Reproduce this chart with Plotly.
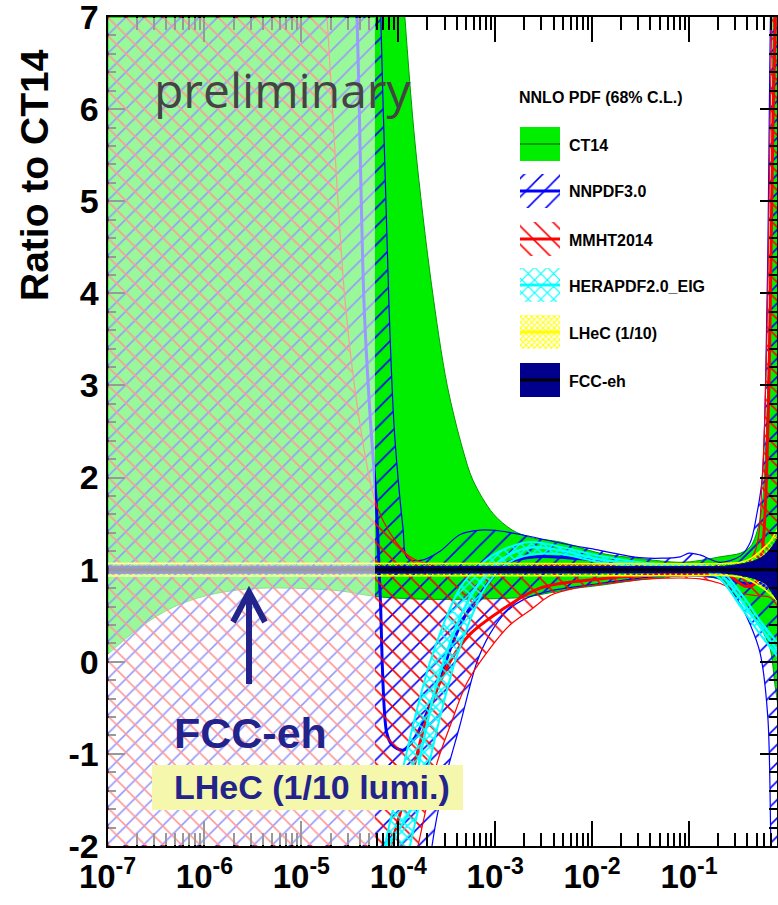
import plotly.graph_objects as go

W, H = 778, 905

# ---------------- PDF ratio bands (ratio to CT14 central) ----------------
# CT14
ct14_up_x = [5e-8, 5e-5, 9.3e-5, 1.17e-4, 1.5e-4, 2.2e-4, 3.2e-4, 4.65e-4, 5.9e-4, 9.5e-4, 1.5e-3,
             2.3e-3, 4.7e-3, 1.2e-2, 3.1e-2, 8.1e-2, 0.13, 0.21, 0.34, 0.43, 0.54, 0.61, 0.68, 0.77, 1.0]
ct14_up = [12, 12, 8.6, 7.0, 5.6, 4.1, 3.0, 2.3, 1.97, 1.61, 1.43,
           1.35, 1.30, 1.18, 1.12, 1.08, 1.10, 1.14, 1.18, 1.25, 1.54, 2.2, 4.0, 8.0, 12]
ct14_lo_x = [5e-8, 1e-7, 2.2e-7, 4.7e-7, 1.06e-6, 2.75e-6, 7.6e-6, 2.5e-5, 5.75e-5, 1.7e-4, 5.5e-4,
             1.94e-3, 3.7e-3, 5.9e-3, 1.2e-2, 3.1e-2, 8.1e-2, 0.13, 0.21, 0.26, 0.34, 0.43, 0.54,
             0.68, 0.77, 0.83, 1.0]
ct14_lo = [-0.2, 0.08, 0.38, 0.59, 0.72, 0.79, 0.80, 0.77, 0.71, 0.68, 0.68,
           0.70, 0.75, 0.79, 0.83, 0.89, 0.93, 0.93, 0.89, 0.78, 0.67, 0.56, 0.38,
           0.16, -0.25, -0.5, -1.5]

# NNPDF3.0
nn_up_x = [5e-8, 5e-5, 6.6e-5, 8.0e-5, 9.0e-5, 1.0e-4, 1.12e-4, 1.23e-4, 1.7e-4, 2.7e-4, 4.3e-4,
           7e-4, 1.12e-3, 2.3e-3, 4.7e-3, 1.2e-2, 3.1e-2, 8.1e-2, 0.10, 0.13, 0.21, 0.34, 0.43,
           0.50, 0.57, 0.64, 0.72, 1.0]
nn_up = [12, 12, 7.0, 3.9, 2.6, 1.97, 1.45, 1.13, 1.10, 1.2, 1.38,
         1.43, 1.42, 1.36, 1.29, 1.21, 1.13, 1.14, 1.18, 1.16, 1.08, 1.15, 1.3,
         1.6, 2.0, 4.0, 8.0, 12]
nn_lo_x = [5e-8, 1.5e-4, 1.89e-4, 2.23e-4, 3.0e-4, 4.3e-4, 6.5e-4, 8.8e-4, 1.32e-3, 2.0e-3, 3.7e-3,
           1.2e-2, 4e-2, 0.13, 0.21, 0.26, 0.34, 0.43, 0.54, 0.65, 0.72, 1.0]
nn_lo = [-5, -5, -3, -2, -1.3, -0.7, 0.0, 0.3, 0.55, 0.68, 0.77,
         0.85, 0.92, 0.93, 0.9, 0.8, 0.62, 0.4, 0.1, -0.6, -2.5, -5]
nn_c_x = [5e-8, 3.3e-5, 3.75e-5, 4.43e-5, 5.1e-5, 5.9e-5, 6.5e-5, 7.6e-5, 8.6e-5, 1.12e-4, 1.49e-4,
          1.98e-4, 2.7e-4, 3.42e-4, 4.9e-4, 7.5e-4, 1.32e-3, 2.7e-3, 5.5e-3, 1.2e-2, 3.1e-2,
          8.1e-2, 0.13, 0.21, 0.26, 0.38, 0.54, 0.68, 1.0]
nn_c = [12, 8.4, 7.0, 3.9, 2.7, 1.76, 0.74, -0.77, -0.9, -0.96, -0.82,
        -0.55, -0.2, 0.13, 0.5, 0.78, 1.07, 1.14, 1.13, 1.1, 1.05,
        1.04, 1.05, 0.98, 0.9, 0.85, 0.85, 0.8, 0.8]

# MMHT2014
mm_up_x = [5e-8, 1.2e-5, 1.84e-5, 2.82e-5, 4.0e-5, 5.75e-5, 8.2e-5, 1.32e-4, 2.9e-4, 7e-4, 3.7e-3,
           1.2e-2, 4e-2, 0.13, 0.21, 0.34, 0.48, 0.57, 0.65, 0.74, 1.0]
mm_up = [12, 10, 7.0, 3.93, 2.6, 1.75, 1.4, 1.14, 1.02, 1.0, 1.05,
         1.05, 1.04, 1.04, 1.02, 1.0, 1.2, 2.0, 4.0, 8.0, 12]
mm_lo_x = [5e-8, 8e-5, 1.04e-4, 1.6e-4, 2.51e-4, 3.42e-4, 5.1e-4, 8.2e-4, 1.42e-3, 2.3e-3, 3.7e-3,
           6.7e-3, 1.2e-2, 4e-2, 0.13, 0.21, 0.34, 0.48, 0.68, 0.83, 1.0]
mm_lo = [-5, -5, -3.0, -2.0, -1.1, -0.7, -0.23, 0.1, 0.4, 0.56, 0.72,
         0.8, 0.84, 0.9, 0.9, 0.85, 0.75, 0.72, 0.7, 0.6, 0.5]
mm_c_x = [5e-8, 7e-5, 8.6e-5, 1.32e-4, 2.13e-4, 3.42e-4, 5.5e-4, 1.12e-3, 2.9e-3, 1.2e-2, 4e-2,
          0.13, 0.26, 0.38, 0.48, 0.57, 0.65, 0.74, 1.0]
mm_c = [-5, -3.5, -2.0, -1.3, -0.5, 0.0, 0.3, 0.55, 0.8, 0.9, 0.94,
        0.96, 0.93, 0.82, 0.85, 1.2, 2.5, 6.0, 12]

# HERAPDF2.0_EIG
hp_up_x = [5e-8, 6.5e-5, 7.3e-5, 1.04e-4, 1.49e-4, 2.13e-4, 3.04e-4, 4.33e-4, 6.97e-4, 1.12e-3,
           2.29e-3, 4.67e-3, 1.21e-2, 3.96e-2, 0.13, 0.21, 0.34, 0.54, 0.83, 1.0]
hp_up = [-5, -2.6, -2.0, -1.3, -0.6, 0.0, 0.45, 0.8, 1.05, 1.2,
         1.3, 1.25, 1.15, 1.07, 1.05, 1.0, 0.75, 0.45, 0.2, 0.1]
hp_lo_x = [5e-8, 1.04e-4, 1.32e-4, 1.89e-4, 2.7e-4, 3.85e-4, 5.5e-4, 7.85e-4, 1.26e-3, 2.03e-3,
           4.67e-3, 1.21e-2, 3.96e-2, 0.13, 0.21, 0.34, 0.54, 0.83, 1.0]
hp_lo = [-5, -2.6, -2.0, -1.3, -0.6, 0.0, 0.45, 0.8, 1.05, 1.15,
         1.17, 1.08, 1.02, 1.0, 0.9, 0.6, 0.3, 0.05, -0.05]
hp_c_x = [5e-8, 1.2e-4, 1.7e-4, 2.4e-4, 3.4e-4, 4.9e-4, 7.4e-4, 1.2e-3, 2.3e-3, 4.7e-3, 1.2e-2,
          4e-2, 0.13, 0.21, 0.34, 0.54, 0.83, 1.0]
hp_c = [-5, -1.7, -1.0, -0.3, 0.2, 0.6, 0.9, 1.12, 1.24, 1.21, 1.11,
        1.05, 1.02, 0.95, 0.68, 0.38, 0.12, 0.02]

# LHeC (1/10 luminosity)
lh_x = [5e-8, 0.13, 0.21, 0.34, 0.43, 0.54, 0.68, 0.83, 1.0]
lh_up = [1.07, 1.065, 1.065, 1.08, 1.12, 1.2, 1.3, 1.45, 1.6]
lh_lo = [0.93, 0.935, 0.94, 0.92, 0.88, 0.82, 0.74, 0.65, 0.55]

# FCC-eh
fc_x = [5e-8, 0.13, 0.21, 0.34, 0.48, 0.61, 0.72, 0.83, 1.0]
fc_up = [1.04, 1.035, 1.035, 1.06, 1.1, 1.16, 1.25, 1.35, 1.5]
fc_lo = [0.96, 0.965, 0.965, 0.94, 0.9, 0.85, 0.75, 0.65, 0.5]

unit_x = [5e-8, 1.0]
unit_y = [1.0, 1.0]

# ---------------- axes ----------------
x_decades = [1e-7, 1e-6, 1e-5, 1e-4, 1e-3, 1e-2, 1e-1]
x_labels = ["10<sup>-7</sup>", "10<sup>-6</sup>", "10<sup>-5</sup>", "10<sup>-4</sup>",
            "10<sup>-3</sup>", "10<sup>-2</sup>", "10<sup>-1</sup>"]
y_ticks = [-2, -1, 0, 1, 2, 3, 4, 5, 6, 7]
y_labels = ["-2", "-1", "0", "1", "2", "3", "4", "5", "6", "7"]

legend_names = ["CT14", "NNPDF3.0", "MMHT2014", "HERAPDF2.0_EIG", "LHeC (1/10)", "FCC-eh"]

GREEN = "#00ee00"
BLUE = "#0000ff"
RED = "#ff0000"
CYAN = "#00ffff"
YELLOW = "#ffff00"
NAVY = "#00008c"
TXT = "#23238c"
FONT = "Liberation Sans, Arial, sans-serif"

fig = go.Figure()


def band(xu, yu, xl, yl, edge, ew, fill, pattern=None, axes=("x", "y"), shape="spline"):
    xs = list(xu) + list(reversed(xl))
    ys = list(yu) + list(reversed(yl))
    tr = dict(x=xs, y=ys, mode="lines", fill="toself", fillcolor=fill,
              line=dict(color=edge, width=ew, shape=shape, smoothing=0.9),
              hoverinfo="skip", showlegend=False, xaxis=axes[0], yaxis=axes[1])
    if pattern is not None:
        tr["fillpattern"] = pattern
    fig.add_trace(go.Scatter(**tr))


def curve(x, y, color, width, axes=("x", "y"), shape="spline"):
    fig.add_trace(go.Scatter(x=x, y=y, mode="lines",
                             line=dict(color=color, width=width, shape=shape, smoothing=0.9),
                             hoverinfo="skip", showlegend=False, xaxis=axes[0], yaxis=axes[1]))


def hatch(shape, color, size, solidity):
    return dict(shape=shape, fgcolor=color, bgcolor="rgba(0,0,0,0)", size=size,
                solidity=solidity, fillmode="replace")


# CT14
band(ct14_up_x, ct14_up, ct14_lo_x, ct14_lo, "#009900", 1, GREEN)
curve(unit_x, unit_y, "#009900", 2)
# NNPDF3.0
band(nn_up_x, nn_up, nn_lo_x, nn_lo, BLUE, 1.2, "rgba(0,0,0,0)", hatch("/", BLUE, 13, 0.12))
curve(nn_c_x, nn_c, BLUE, 3)
# MMHT2014
band(mm_up_x, mm_up, mm_lo_x, mm_lo, RED, 1.2, "rgba(0,0,0,0)", hatch("\\", RED, 13, 0.12))
curve(mm_c_x, mm_c, RED, 3)
# HERAPDF2.0
band(hp_up_x, hp_up, hp_lo_x, hp_lo, CYAN, 2, "rgba(0,0,0,0)", hatch("x", CYAN, 8, 0.35))
curve(hp_c_x, hp_c, CYAN, 2.5)
# LHeC
band(lh_x, lh_up, lh_x, lh_lo, YELLOW, 1.5, "rgba(0,0,0,0)", hatch("x", YELLOW, 4, 0.4))
curve(unit_x, unit_y, YELLOW, 2)
# FCC-eh
band(fc_x, fc_up, fc_x, fc_lo, NAVY, 1, NAVY)
curve(unit_x, unit_y, "black", 3)

# ---------------- legend (drawn in a pixel-space overlay) ----------------
sw_x0, sw_x1 = 520, 560
row_y = [144, 191, 239, 285, 332, 380]
half_h = 17
sw_styles = [
    dict(fill=GREEN, pattern=None, line="#009900", lw=2),
    dict(fill="rgba(0,0,0,0)", pattern=hatch("/", BLUE, 13, 0.12), line=BLUE, lw=3),
    dict(fill="rgba(0,0,0,0)", pattern=hatch("\\", RED, 13, 0.12), line=RED, lw=3),
    dict(fill="rgba(0,0,0,0)", pattern=hatch("x", CYAN, 9, 0.25), line=CYAN, lw=3),
    dict(fill="rgba(0,0,0,0)", pattern=hatch("x", YELLOW, 4, 0.45), line=YELLOW, lw=3),
    dict(fill=NAVY, pattern=None, line="black", lw=3),
]
for yc, st, name in zip(row_y, sw_styles, legend_names):
    band([sw_x0, sw_x1], [yc - half_h, yc - half_h], [sw_x0, sw_x1], [yc + half_h, yc + half_h],
         "rgba(0,0,0,0)", 0, st["fill"], st["pattern"], axes=("x2", "y2"), shape="linear")
    curve([sw_x0, sw_x1], [yc, yc], st["line"], st["lw"], axes=("x2", "y2"), shape="linear")


def px(x):
    return x / W


def py(y):
    return 1 - y / H


annotations = [
    dict(text="<b>NNLO PDF (68% C.L.)</b>", x=px(517), y=py(97), xanchor="left", yanchor="middle",
         font=dict(family=FONT, size=16, color="black")),
]
for yc, name in zip(row_y, legend_names):
    annotations.append(dict(text="<b>%s</b>" % name, x=px(567), y=py(yc + 1), xanchor="left",
                            yanchor="middle", font=dict(family=FONT, size=16, color="black")))

annotations += [
    dict(text="Ratio to CT14", x=px(34), y=py(175), textangle=-90, xanchor="center",
         yanchor="middle", font=dict(family=FONT, size=39, color="black", weight="bold")),
    dict(text="preliminary", x=px(282), y=py(90), xanchor="center", yanchor="middle",
         font=dict(family="Open Sans, sans-serif", size=48, color="#444444")),
    dict(text="<b>FCC-eh</b>", x=px(250), y=py(733), xanchor="center", yanchor="middle",
         font=dict(family=FONT, size=43, color=TXT)),
    dict(text="<b>LHeC (1/10 lumi.)</b>", x=px(312), y=py(787), xanchor="center", yanchor="middle",
         font=dict(family=FONT, size=34, color=TXT)),
]
for a in annotations:
    a.update(xref="paper", yref="paper", showarrow=False)

shapes = [
    # pale veil over the small-x extrapolation region
    dict(type="rect", xref="paper", yref="paper", x0=px(108.5), x1=px(375), y0=py(845), y1=py(18),
         fillcolor="rgba(255,255,255,0.6)", line=dict(width=0), layer="above"),
    # label box
    dict(type="rect", xref="paper", yref="paper", x0=px(152), x1=px(463), y0=py(810), y1=py(765),
         fillcolor="#f4f7ac", line=dict(width=0), layer="above"),
    # arrow
    dict(type="path", xref="paper", yref="paper",
         path="M %f,%f L %f,%f M %f,%f L %f,%f L %f,%f" % (
             px(249), py(684), px(249), py(594),
             px(233), py(622), px(249), py(592), px(265), py(622)),
         line=dict(color=TXT, width=6), layer="above"),
]

minor_x = [m * d for d in x_decades for m in range(2, 10)]

axis_common = dict(showline=True, linecolor="black", linewidth=2, mirror="allticks",
                   ticks="inside", tickcolor="black", tickwidth=2, showgrid=False, zeroline=False,
                   automargin=False, ticklabeloverflow="allow")

fig.update_layout(
    width=W, height=H,
    margin=dict(l=0, r=0, t=0, b=0, autoexpand=False),
    paper_bgcolor="white", plot_bgcolor="rgba(0,0,0,0)",
    showlegend=False,
    xaxis=dict(type="log", domain=[107.5 / W, 777 / W], range=[-7, -0.0923],
               tickmode="array", tickvals=x_decades, ticktext=x_labels, ticklen=25,
               tickfont=dict(family=FONT, size=33, color="black", weight="bold"),
               minor=dict(tickmode="array", tickvals=minor_x, ticks="inside", ticklen=13,
                          tickwidth=1.5, tickcolor="black"),
               anchor="y", **axis_common),
    yaxis=dict(domain=[py(846), py(17)], range=[-2, 7.0005], tickmode="array", tickvals=y_ticks,
               ticktext=y_labels, ticklen=17,
               tickfont=dict(family=FONT, size=34, color="black", weight="bold"),
               minor=dict(dtick=0.2, ticks="inside", ticklen=8, tickwidth=1.5, tickcolor="black"),
               anchor="x", **axis_common),
    xaxis2=dict(domain=[0, 1], range=[0, W], visible=False, anchor="y2", fixedrange=True),
    yaxis2=dict(domain=[0, 1], range=[H, 0], visible=False, anchor="x2", fixedrange=True),
    annotations=annotations,
    shapes=shapes,
)

fig.write_html("out.html")
